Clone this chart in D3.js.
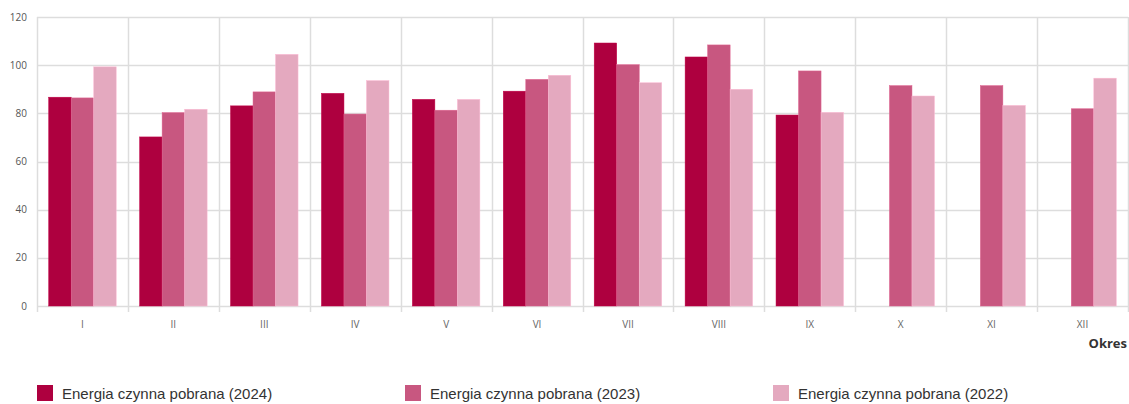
<!DOCTYPE html>
<html>
<head>
<meta charset="utf-8">
<script src="https://cdn.jsdelivr.net/npm/d3@7"></script>
<style>
  body { margin: 0; background: #fff; }
  svg { display: block; }
</style>
</head>
<body>
<div id="chart"></div>
<script>
const months = ["I", "II", "III", "IV", "V", "VI", "VII", "VIII", "IX", "X", "XI", "XII"]
const seriesNames = ["Energia czynna pobrana (2024)", "Energia czynna pobrana (2023)", "Energia czynna pobrana (2022)"]
const values2024 = [86.7, 70.2, 83.1, 88.3, 85.8, 89.2, 109.2, 103.4, 79.3, null, null, null]
const values2023 = [86.4, 80.3, 88.9, 79.7, 81.3, 94.1, 100.2, 108.4, 97.6, 91.5, 91.5, 81.9]
const values2022 = [99.3, 81.7, 104.5, 93.6, 85.8, 95.8, 92.7, 90.0, 80.4, 87.2, 83.3, 94.6]
const yTicks = [0, 20, 40, 60, 80, 100, 120]
const colors = ["#ae003f", "#c85780", "#e4a9bf"]

const W = 1129, H = 404
const margin = {top: 17, right: 1, bottom: 98, left: 37}
const w = W - margin.left - margin.right,
      h = H - margin.top - margin.bottom

const svg = d3.select("#chart")
    .append("svg")
    .attr("width", W)
    .attr("height", H)

const g = svg.append("g")
    .attr("transform", `translate(${margin.left},${margin.top})`)

const x = d3.scaleBand().domain(months).range([0, w]).padding(0)
const x1 = d3.scaleBand().domain([0, 1, 2]).range([0, x.bandwidth()]).paddingOuter(0.52).paddingInner(0)
const y = d3.scaleLinear().domain([0, 120]).range([h, 0])

// horizontal grid
g.append("g")
    .selectAll("line")
    .data(yTicks)
    .join("line")
    .attr("x1", 0).attr("x2", w)
    .attr("y1", d => Math.round(y(d)) + 0.5).attr("y2", d => Math.round(y(d)) + 0.5)
    .style("stroke", "#dddddd")
    .style("stroke-width", 1.5)

// vertical grid at category boundaries
const bounds = months.map(m => x(m)).concat([w])
g.append("g")
    .selectAll("line")
    .data(bounds)
    .join("line")
    .attr("x1", d => Math.round(d) + 0.5).attr("x2", d => Math.round(d) + 0.5)
    .attr("y1", 0).attr("y2", h + 6)
    .style("stroke", "#dddddd")
    .style("stroke-width", 1.5)

// y axis labels
g.append("g")
    .selectAll("text")
    .data(yTicks)
    .join("text")
    .attr("x", -10)
    .attr("y", d => y(d))
    .attr("dy", "0.35em")
    .attr("text-anchor", "end")
    .style("font-family", "'Open Sans', sans-serif")
    .style("font-size", "10px")
    .style("fill", "#555")
    .text(d => d)

// bars
const series = [values2024, values2023, values2022]
series.forEach((vals, si) => {
    g.append("g")
        .selectAll("rect")
        .data(months.map((m, i) => ({m: m, v: vals[i]})).filter(d => d.v != null))
        .join("rect")
        .attr("x", d => x(d.m) + x1(si))
        .attr("y", d => y(d.v))
        .attr("width", x1.bandwidth())
        .attr("height", d => h - y(d.v))
        .style("fill", colors[si])
        .style("stroke", d3.rgb(colors[si]).brighter(0.3))
        .style("stroke-width", 0.5)
})

// x labels
g.append("g")
    .selectAll("text")
    .data(months)
    .join("text")
    .attr("x", d => x(d) + x.bandwidth() / 2)
    .attr("y", h + 22)
    .attr("text-anchor", "middle")
    .style("font-family", "'Open Sans', sans-serif")
    .style("font-size", "10px")
    .style("fill", "#666")
    .text(d => d)

g.append("text")
    .attr("x", w - 1)
    .attr("y", h + 42)
    .attr("text-anchor", "end")
    .style("font-family", "'Open Sans', sans-serif")
    .style("font-size", "13px")
    .style("font-weight", "bold")
    .style("fill", "#333")
    .text("Okres")

// legend
const legend = svg.append("g")
    .selectAll("g")
    .data(seriesNames)
    .join("g")
    .attr("transform", (d, i) => `translate(${37 + i * 368},385)`)

legend.append("rect")
    .attr("width", 16).attr("height", 16)
    .style("fill", (d, i) => colors[i])

legend.append("text")
    .attr("x", 25)
    .attr("y", 9)
    .attr("dy", "0.35em")
    .style("font-family", "'Liberation Sans', Arial, sans-serif")
    .style("font-size", "15px")
    .style("fill", "#333")
    .text(d => d)
</script>
</body>
</html>
